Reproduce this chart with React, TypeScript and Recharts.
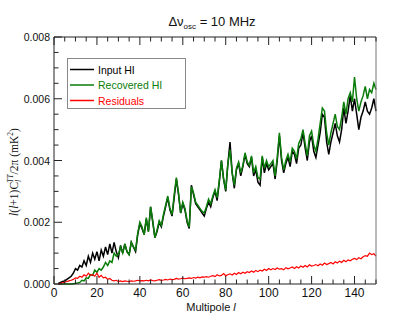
import { LineChart, Line, XAxis, YAxis, Legend } from 'recharts'

// multipole l runs from 2 to 150, one value per l
const lFirst = 2

// l(l+1)C_l/2pi in units of 1e-3 mK^2
const inputHI = [
  0.02, 0.05, 0.08, 0.1, 0.15, 0.2, 0.25, 0.35, 0.5, 0.45,
  0.6, 0.55, 0.75, 0.6, 0.9, 0.7, 1.0, 0.8, 1.05, 0.75,
  1.1, 0.9, 1.2, 0.95, 1.3, 1.0, 1.35, 1.05, 0.85, 1.25,
  1.0, 1.3, 1.05, 0.95, 1.35, 1.2, 1.05, 1.6, 1.95, 1.8,
  1.6, 2.1, 1.7, 2.5, 2.0, 1.5, 1.7, 2.0, 1.85, 2.2,
  2.5, 2.8, 2.4, 2.2, 2.8, 3.4, 2.9, 2.3, 2.6, 2.4,
  2.0, 1.8, 3.2, 2.9, 2.6, 2.5, 2.4, 2.3, 2.2, 2.45,
  2.65, 2.5, 2.8, 3.0, 2.7, 3.3, 4.0, 3.4, 3.0, 3.9,
  4.6, 3.6, 3.1, 3.7, 3.9, 3.5, 3.8, 4.2, 3.9, 3.8,
  4.1, 3.5, 3.7, 3.3, 3.2, 4.1, 3.6, 3.9, 3.7, 3.8,
  3.9, 3.4, 4.0, 4.8, 4.0, 3.6, 3.9, 4.1, 3.8, 4.3,
  4.2, 3.9, 4.4, 4.5, 4.9, 4.4, 4.0, 4.6, 4.8, 4.3,
  4.1, 4.5, 4.9, 5.5, 5.4, 4.6, 4.2, 4.6, 4.9, 5.2,
  4.8, 4.6, 5.0, 5.7, 5.2, 5.6, 6.1, 5.6, 6.0, 5.5,
  5.0, 5.4, 5.6, 5.9, 5.6, 5.5, 5.7, 6.0, 5.6,
]

const recoveredHI = [
  0, 0, 0, 0, 0, 0, 0, 0.01, 0.02, 0.03,
  0.05, 0.12, 0.1, 0.2, 0.18, 0.3, 0.28, 0.45, 0.38, 0.5,
  0.45, 0.55, 0.7, 0.6, 0.75, 0.7, 1.0, 0.9, 0.95, 1.2,
  1.0, 1.3, 1.05, 0.95, 1.35, 1.2, 1.1, 1.65, 2.0, 1.85,
  1.6, 2.15, 1.7, 2.5, 2.05, 1.5, 1.75, 2.05, 1.9, 2.25,
  2.55, 2.85, 2.45, 2.25, 2.9, 3.45, 2.95, 2.3, 2.65, 2.45,
  2.05, 1.85, 3.15, 2.95, 2.65, 2.55, 2.45, 2.35, 2.3, 2.5,
  2.75, 2.6, 2.85, 3.05, 2.8, 3.35, 4.0, 3.4, 3.05, 3.9,
  4.35, 3.6, 3.2, 3.75, 3.95, 3.6, 3.85, 4.25, 3.95, 3.85,
  4.15, 3.6, 3.8, 3.45, 3.4, 4.15, 3.75, 4.0, 3.8, 3.9,
  4.0, 3.5, 4.1, 4.9, 4.1, 3.7, 4.0, 4.2, 3.95, 4.4,
  4.3, 4.05, 4.55, 4.7, 5.0, 4.55, 4.15, 4.8, 4.95, 4.5,
  4.3, 4.7, 5.2, 5.7, 5.6, 4.9, 4.5, 4.9, 5.2, 5.5,
  5.1, 5.0, 5.4, 5.9, 5.5, 6.0, 6.2, 5.9, 6.7, 6.0,
  5.6, 5.9, 6.1, 6.4, 6.0, 6.3, 6.2, 6.5, 6.3,
]

const residuals = [
  0, 0.02, 0.04, 0.06, 0.08, 0.1, 0.12, 0.15, 0.2, 0.18,
  0.25, 0.22, 0.3, 0.25, 0.35, 0.28, 0.3, 0.25, 0.35, 0.22,
  0.28, 0.2, 0.22, 0.15, 0.18, 0.12, 0.1, 0.12, 0.08, 0.1,
  0.08, 0.1, 0.09, 0.08, 0.1, 0.09, 0.1, 0.12, 0.1, 0.11,
  0.1, 0.12, 0.1, 0.13, 0.11, 0.1, 0.12, 0.14, 0.12, 0.13,
  0.15, 0.13, 0.16, 0.14, 0.15, 0.18, 0.16, 0.17, 0.19, 0.17,
  0.18, 0.2, 0.18, 0.21, 0.19, 0.22, 0.2, 0.23, 0.22, 0.24,
  0.22, 0.25, 0.27, 0.24, 0.3, 0.26, 0.28, 0.34, 0.27, 0.3,
  0.33, 0.29, 0.35, 0.31, 0.37, 0.33, 0.38, 0.35, 0.4, 0.37,
  0.42, 0.38, 0.44, 0.4, 0.45, 0.42, 0.48, 0.44, 0.5, 0.46,
  0.5, 0.47, 0.52, 0.48, 0.5, 0.46, 0.53, 0.49, 0.52, 0.55,
  0.5, 0.56, 0.52, 0.58, 0.54, 0.6, 0.55, 0.62, 0.58, 0.6,
  0.63, 0.59, 0.65, 0.61, 0.68, 0.63, 0.66, 0.7, 0.65, 0.72,
  0.68, 0.74, 0.7, 0.77, 0.72, 0.78, 0.75, 0.8, 0.83, 0.79,
  0.85, 0.82, 0.88, 0.92, 0.9, 1.0, 0.95, 0.98, 0.9,
]

const xTicks = [
  0, 5, 10, 15, 20, 25, 30, 35, 40, 45, 50, 55, 60, 65, 70, 75,
  80, 85, 90, 95, 100, 105, 110, 115, 120, 125, 130, 135, 140, 145, 150,
]
const yTicks = [
  0, 0.0005, 0.001, 0.0015, 0.002, 0.0025, 0.003, 0.0035, 0.004,
  0.0045, 0.005, 0.0055, 0.006, 0.0065, 0.007, 0.0075, 0.008,
]

const legendItems = [
  { name: 'Input HI', color: '#000000' },
  { name: 'Recovered HI', color: '#0a7d0a' },
  { name: 'Residuals', color: '#ff0000' },
]

const rows = inputHI.map((v, i) => ({
  l: lFirst + i,
  input: v / 1000,
  recovered: recoveredHI[i] / 1000,
  resid: residuals[i] / 1000,
}))

const frame = '#222'
const sans = '"Liberation Sans", Arial, sans-serif'
const serif = '"Liberation Serif", "Times New Roman", serif'

const isMajorX = (v: number) => v % 20 === 0
const isMajorY = (v: number) => Math.round(v * 10000) % 20 === 0
const tickLen = (major: boolean) => (major ? 8 : 4.5)

const BottomTick = ({ x, y, payload }: any) => {
  const major = isMajorX(payload.value)
  return (
    <g>
      <line x1={x} y1={y} x2={x} y2={y - tickLen(major)} stroke={frame} />
      {major && (
        <text x={x} y={y + 13} textAnchor="middle" fontSize={12} fontFamily={sans} fill="#111">
          {payload.value}
        </text>
      )}
    </g>
  )
}

const TopTick = ({ x, y, payload }: any) => (
  <line x1={x} y1={y} x2={x} y2={y + tickLen(isMajorX(payload.value))} stroke={frame} />
)

const LeftTick = ({ x, y, payload }: any) => {
  const major = isMajorY(payload.value)
  return (
    <g>
      <line x1={x} y1={y} x2={x + tickLen(major)} y2={y} stroke={frame} />
      {major && (
        <text x={x - 4} y={y + 4} textAnchor="end" fontSize={10.5} fontFamily={sans} fill="#111">
          {payload.value.toFixed(3)}
        </text>
      )}
    </g>
  )
}

const RightTick = ({ x, y, payload }: any) => (
  <line x1={x} y1={y} x2={x - tickLen(isMajorY(payload.value))} y2={y} stroke="#777" />
)

const LegendBox = () => (
  <svg width={119} height={51} style={{ display: 'block' }}>
    <rect x={0.5} y={0.5} width={118} height={50} fill="#fff" stroke="#888" />
    {legendItems.map((item, i) => (
      <g key={item.name}>
        <line x1={3} x2={27} y1={11.5 + i * 15.5} y2={11.5 + i * 15.5} stroke={item.color} strokeWidth={1.5} />
        <text x={31} y={15.5 + i * 15.5} fontSize={10.5} fontFamily={sans} fill={item.color}>
          {item.name}
        </text>
      </g>
    ))}
  </svg>
)

export default function App() {
  return (
    <div style={{ position: 'absolute', left: 0, top: 0, width: 407, height: 326, background: '#fff' }}>
      <LineChart width={407} height={326} data={rows} margin={{ top: 0, right: 0, bottom: 0, left: 0 }}>
        <XAxis
          xAxisId="bottom"
          dataKey="l"
          type="number"
          domain={[0, 150]}
          ticks={xTicks}
          interval={0}
          height={42}
          tickSize={0}
          tickMargin={0}
          tickLine={false}
          axisLine={{ stroke: frame }}
          tick={<BottomTick />}
        />
        <XAxis
          xAxisId="top"
          orientation="top"
          dataKey="l"
          type="number"
          domain={[0, 150]}
          ticks={xTicks}
          interval={0}
          height={37}
          tickSize={0}
          tickMargin={0}
          tickLine={false}
          axisLine={{ stroke: frame }}
          tick={<TopTick />}
        />
        <YAxis
          yAxisId="left"
          type="number"
          domain={[0, 0.008]}
          ticks={yTicks}
          interval={0}
          width={54}
          tickSize={0}
          tickMargin={0}
          tickLine={false}
          axisLine={{ stroke: frame }}
          tick={<LeftTick />}
        />
        <YAxis
          yAxisId="right"
          orientation="right"
          type="number"
          domain={[0, 0.008]}
          ticks={yTicks}
          interval={0}
          width={31}
          tickSize={0}
          tickMargin={0}
          tickLine={false}
          axisLine={{ stroke: '#777' }}
          tick={<RightTick />}
        />
        <Line xAxisId="bottom" yAxisId="left" type="linear" dataKey="input" stroke="#000" strokeWidth={1.5} dot={false} isAnimationActive={false} />
        <Line xAxisId="bottom" yAxisId="left" type="linear" dataKey="recovered" stroke="#0a7d0a" strokeWidth={1.5} dot={false} isAnimationActive={false} />
        <Line xAxisId="bottom" yAxisId="left" type="linear" dataKey="resid" stroke="#ff0000" strokeWidth={1.2} dot={false} isAnimationActive={false} />
        <Legend
          layout="vertical"
          align="center"
          verticalAlign="middle"
          wrapperStyle={{ left: 67, top: 58, width: 119, height: 51 }}
          content={() => <LegendBox />}
        />
      </LineChart>
      <svg width={407} height={326} style={{ position: 'absolute', left: 0, top: 0, pointerEvents: 'none' }}>
        <text x={212} y={26} textAnchor="middle" fontSize={13} fontFamily={sans} fill="#111">
          Δν<tspan fontSize={8} dy={3}>osc</tspan>
          <tspan dy={-3}> = 10 MHz</tspan>
        </text>
        <text x={211} y={311} textAnchor="middle" fontSize={11} fontFamily={sans} fill="#111">
          Multipole <tspan fontStyle="italic">l</tspan>
        </text>
        <text
          transform="translate(18,172) rotate(-90)"
          textAnchor="middle"
          fontSize={11.5}
          fontFamily={serif}
          fill="#111"
        >
          <tspan fontStyle="italic">l</tspan>(<tspan fontStyle="italic">l</tspan>+1)C
          <tspan fontSize={7.5} fontStyle="italic" dy={3}>l</tspan>
          <tspan fontSize={7.5} fontStyle="italic" dx={-3} dy={-8}>TT</tspan>
          <tspan dy={5}>/2π (mK</tspan>
          <tspan fontSize={7.5} dy={-5}>2</tspan>
          <tspan dy={5}>)</tspan>
        </text>
      </svg>
    </div>
  )
}
